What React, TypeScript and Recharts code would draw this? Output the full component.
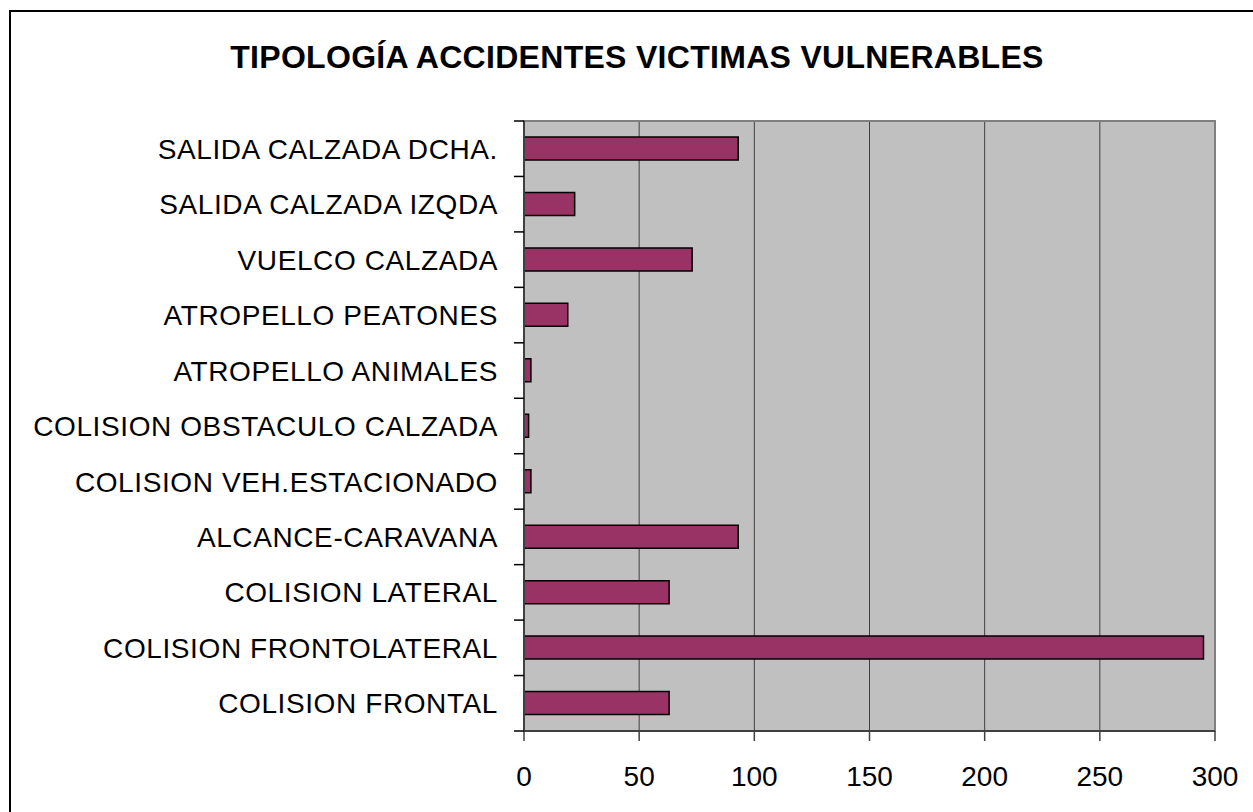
import { BarChart, Bar, XAxis, YAxis, CartesianGrid, ReferenceArea } from 'recharts';

const categories = [
  'SALIDA CALZADA DCHA.',
  'SALIDA CALZADA IZQDA',
  'VUELCO CALZADA',
  'ATROPELLO PEATONES',
  'ATROPELLO ANIMALES',
  'COLISION OBSTACULO CALZADA',
  'COLISION VEH.ESTACIONADO',
  'ALCANCE-CARAVANA',
  'COLISION LATERAL',
  'COLISION FRONTOLATERAL',
  'COLISION FRONTAL',
];

const victims = [93, 22, 73, 19, 3, 2, 3, 93, 63, 295, 63];

const xTicks = [0, 50, 100, 150, 200, 250, 300];

const TITLE = 'TIPOLOGÍA ACCIDENTES VICTIMAS VULNERABLES';

const FONT = 'Arial, "Liberation Sans", sans-serif';

const chartData = categories.map((name, i) => ({ name, value: victims[i] }));

// category label + the tick marks, which sit on the band edges, not the centres
function CategoryTick(props: any) {
  const { x, y, payload, index, visibleTicksCount } = props;
  const half = payload?.offset ?? 610 / 22;
  const isLast = index === visibleTicksCount - 1;
  return (
    <g>
      <text
        x={x}
        y={y}
        dy="0.36em"
        textAnchor="end"
        fontFamily={FONT}
        fontSize={28}
        letterSpacing={0.6}
        fill="#000"
      >
        {payload.value}
      </text>
      <line x1={x + 16} x2={x + 26} y1={y - half} y2={y - half} stroke="#000" strokeWidth={1.5} />
      {isLast && (
        <line x1={x + 16} x2={x + 26} y1={y + half} y2={y + half} stroke="#000" strokeWidth={1.5} />
      )}
    </g>
  );
}

export default function App() {
  return (
    <div
      style={{
        position: 'absolute',
        left: 0,
        top: 0,
        width: 1253,
        height: 812,
        overflow: 'hidden',
        background: '#fff',
      }}
    >
      <div
        style={{
          position: 'absolute',
          left: 9,
          top: 10,
          width: 1300,
          height: 900,
          border: '2px solid #000',
          boxSizing: 'border-box',
        }}
      />
      <div
        style={{
          position: 'absolute',
          left: 0,
          top: 39,
          width: 1274,
          textAlign: 'center',
          fontFamily: FONT,
          fontWeight: 'bold',
          fontSize: 32,
          letterSpacing: 0.3,
          color: '#000',
        }}
      >
        {TITLE}
      </div>
      <div style={{ position: 'absolute', left: 0, top: 0 }}>
        <BarChart
          width={1253}
          height={812}
          data={chartData}
          layout="vertical"
          barSize={23}
          margin={{ top: 121, right: 38, bottom: 0, left: 0 }}
        >
          <CartesianGrid
            horizontal={false}
            vertical
            fill="#C0C0C0"
            stroke="#404040"
            strokeWidth={1}
          />
          <ReferenceArea
            x1={0}
            x2={300}
            fill="none"
            stroke="#808080"
            strokeWidth={2}
            ifOverflow="visible"
          />
          <XAxis
            type="number"
            domain={[0, 300]}
            ticks={xTicks}
            interval={0}
            height={81}
            tickSize={10}
            tickMargin={25}
            axisLine={{ stroke: '#404040', strokeWidth: 2 }}
            tickLine={{ stroke: '#404040', strokeWidth: 1.5 }}
            tick={{ fontFamily: FONT, fontSize: 28, fill: '#000' }}
          />
          <YAxis
            type="category"
            dataKey="name"
            width={524}
            interval={0}
            tickSize={10}
            tickMargin={16}
            tickLine={false}
            axisLine={{ stroke: '#404040', strokeWidth: 2 }}
            tick={<CategoryTick />}
          />
          <Bar
            dataKey="value"
            fill="#993366"
            stroke="#000"
            strokeWidth={1.5}
            isAnimationActive={false}
          />
        </BarChart>
      </div>
    </div>
  );
}
